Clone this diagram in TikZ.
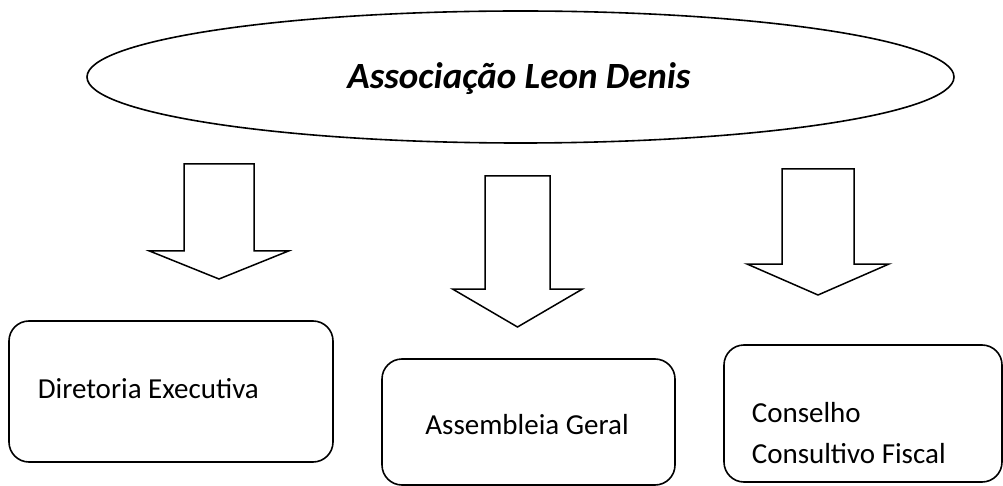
\documentclass[tikz,border=0pt]{standalone}
\usepackage{fontspec}
\setmainfont{Carlito}
\usetikzlibrary{shapes.geometric}
\newcommand\blkarrow[7]{%
  \draw[blockarrowstyle] ({#2-#3},#5) -- ({#2+#3},#5) -- ({#2+#3},#6) -- ({#2+#4},#6)
    -- (#2,#7) -- ({#2-#4},#6) -- ({#2-#3},#6) -- cycle;
  \coordinate (#1) at (#2,#7);}
\begin{document}
\begin{tikzpicture}[x=1pt,y=-1pt,
  line width=1.6pt,
  box/.style={draw, rounded corners=20pt, inner sep=0pt},
  lbl/.style={font=\fontsize{29}{41}\selectfont, inner sep=0pt, anchor=base west},
  blockarrowstyle/.style={draw, line width=1.5pt, line join=miter}]
\useasboundingbox (0,0) rectangle (1003,486);
\node[draw, ellipse, minimum width=867pt, minimum height=132pt, inner sep=0pt] (org) at (520.5,77) {};
\node[font=\fontsize{37}{44}\selectfont\bfseries\itshape, anchor=base, inner sep=0pt] (title) at (519,89) {Associação Leon Denis};
% block arrows
\blkarrow{a1}{219}{35}{69.5}{164}{251}{279}
\blkarrow{a2}{517.5}{32.5}{65}{176}{289}{327}
\blkarrow{a3}{818}{36}{71}{169}{264}{295}
% boxes
\node[box, minimum width=324pt, minimum height=141pt] (b1) at (171,391.5) {};
\node[box, minimum width=293pt, minimum height=126pt] (b2) at (528.5,422) {};
\node[box, minimum width=278pt, minimum height=137pt] (b3) at (863,413.5) {};
% labels
\node[lbl] (t1) at (37,398) {Diretoria Executiva};
\node[lbl, anchor=base] (t2) at (527,434) {Assembleia Geral};
\node[lbl] (t3a) at (751,422) {Conselho};
\node[lbl] (t3b) at (751,463) {Consultivo Fiscal};
\end{tikzpicture}
\end{document}
